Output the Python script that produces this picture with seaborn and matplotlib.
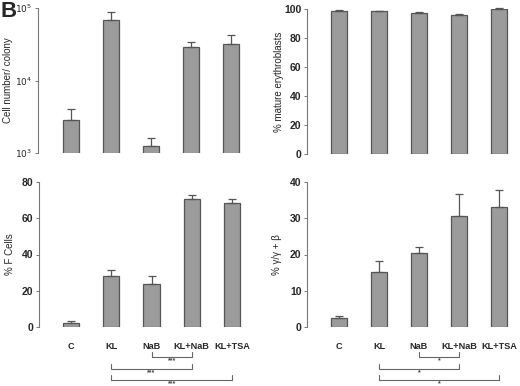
import matplotlib
matplotlib.use("Agg")
import matplotlib.pyplot as plt
import matplotlib.transforms as mtransforms
import numpy as np
import pandas as pd
import seaborn as sns

# treatment groups (same for all four panels)
groups = ["C", "KL", "NaB", "KL+NaB", "KL+TSA"]

# panel values (mean and upper error)
cells_mean = [2850, 68000, 1250, 28700, 31900]
cells_err = [1200, 19000, 360, 4900, 10600]

mature_mean = [98.8, 98.3, 97.3, 96.2, 99.8]
mature_err = [0.2, 0.6, 0.3, 0.2, 0.6]

fcells_mean = [2.3, 28.1, 23.7, 70.7, 68.5]
fcells_err = [1.0, 3.3, 4.4, 1.9, 1.9]

ggamma_mean = [2.6, 15.3, 20.4, 30.6, 33.1]
ggamma_err = [0.5, 2.9, 1.8, 6.1, 4.6]

# significance comparisons under the lower panels
comparisons = [("NaB", "KL+NaB"), ("KL", "KL+NaB"), ("KL", "KL+TSA")]
fcells_stars = ["***", "***", "***"]
ggamma_stars = ["*", "*", "*"]

sns.set_theme(style="white")
plt.rcParams["font.family"] = ["Liberation Sans", "DejaVu Sans"]

W, H = 520, 386
fig = plt.figure(figsize=(W / 100, H / 100), dpi=100)

BAR = "#9b9b9b"
EDGE = "#555555"
AXC = "#777777"


def px_axes(left, right, top, bottom):
    return fig.add_axes([left / W, 1 - bottom / H, (right - left) / W, (bottom - top) / H])


def draw_panel(ax, means, errs, ylabel, label_x):
    df = pd.DataFrame({"group": groups, "value": means})
    sns.barplot(data=df, x="group", y="value", ax=ax, color=BAR, width=0.4,
                edgecolor=EDGE, linewidth=0.9, saturation=1, errorbar=None)
    x = np.arange(len(groups))
    ax.errorbar(x, means, yerr=[np.zeros(len(errs)), errs], fmt="none",
                ecolor=EDGE, elinewidth=0.9, capsize=3, capthick=0.9, clip_on=False)
    for s in ["top", "right", "bottom"]:
        ax.spines[s].set_visible(False)
    ax.spines["left"].set_color(AXC)
    ax.spines["left"].set_linewidth(0.8)
    ax.tick_params(axis="y", left=True, length=2, width=0.7, color=AXC, pad=2,
                   labelsize=7.5)
    ax.set_xlabel("")
    ax.set_ylabel(ylabel, fontsize=7)
    ax.yaxis.set_label_coords(label_x, 0.5)


def brackets(ax, stars, y_rows):
    trans = mtransforms.blended_transform_factory(ax.transData, fig.transFigure)
    for (a, b), st, yp in zip(comparisons, stars, y_rows):
        x0, x1 = groups.index(a), groups.index(b)
        y = 1 - yp / H
        yt = 1 - (yp - 5) / H
        ax.plot([x0, x0, x1, x1], [yt, y, y, yt], color="#666666", lw=0.8,
                transform=trans, clip_on=False)
        ax.text((x0 + x1) / 2, 1 - (yp + 4) / H, st, transform=trans,
                ha="center", va="center", fontsize=5, fontweight="bold",
                color="#444444")


def bold_ticks(ax, xlabels=True):
    for t in ax.get_yticklabels():
        t.set_fontweight("bold")
    if xlabels:
        ax.tick_params(axis="x", length=0, pad=11, labelsize=6.6)
        for t in ax.get_xticklabels():
            t.set_fontweight("bold")
    else:
        ax.set_xticks([])


# top-left: cell number per colony (log)
ax1 = px_axes(38, 251, 8, 153)
draw_panel(ax1, cells_mean, cells_err, "Cell number/ colony", -0.117)
ax1.set_yscale("log")
ax1.set_ylim(1e3, 1e5)
ax1.set_xlim(-0.82, 4.5)
ax1.set_yticks([1e3, 1e4, 1e5])
ax1.set_yticklabels([r"$10^3$", r"$10^4$", r"$10^5$"])
ax1.yaxis.set_minor_locator(matplotlib.ticker.NullLocator())
ax1.tick_params(axis="y", labelsize=6.5)
ax1.set_xticks([])

# top-right: % mature erythroblasts
ax2 = px_axes(307, 519, 9, 154)
draw_panel(ax2, mature_mean, mature_err, "% mature erythroblasts", -0.108)
ax2.set_ylim(0, 100)
ax2.set_xlim(-0.8, 4.5)
ax2.set_yticks([0, 20, 40, 60, 80, 100])
bold_ticks(ax2, xlabels=False)

# bottom-left: % F cells
ax3 = px_axes(39, 252, 182, 327)
draw_panel(ax3, fcells_mean, fcells_err, "% F Cells", -0.113)
ax3.set_ylim(0, 80)
ax3.set_xlim(-0.8, 4.5)
ax3.set_yticks([0, 20, 40, 60, 80])
bold_ticks(ax3)
brackets(ax3, fcells_stars, [357, 369, 380])

# bottom-right: % Ggamma / gamma + beta
ax4 = px_axes(307, 519, 182, 327)
draw_panel(ax4, ggamma_mean, ggamma_err, "% γ/γ + β", -0.118)
ax4.set_ylim(0, 40)
ax4.set_xlim(-0.8, 4.5)
ax4.set_yticks([0, 10, 20, 30, 40])
bold_ticks(ax4)
brackets(ax4, ggamma_stars, [357, 369, 380])

fig.text(0.0, 0.998, "B", fontsize=16, fontweight="bold", ha="left", va="top")

fig.savefig("out.png", dpi=100)
